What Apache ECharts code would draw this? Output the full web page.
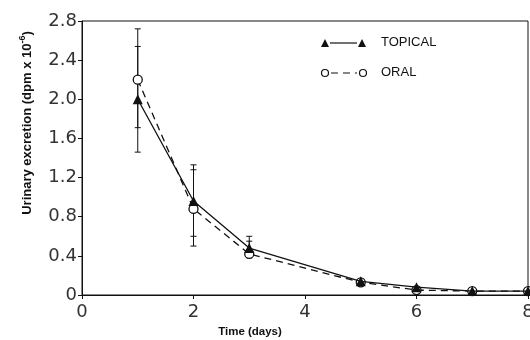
<!DOCTYPE html>
<html>
<head>
<meta charset="utf-8">
<script src="https://cdn.jsdelivr.net/npm/echarts@6/dist/echarts.min.js"></script>
<style>
  html, body { margin: 0; padding: 0; background: #fff; }
  #chart { width: 530px; height: 340px; }
</style>
</head>
<body>
<div id="chart"></div>
<script>
// days sampled
const days = [1, 2, 3, 5, 6, 7, 8];
// urinary excretion (dpm x 10^-6)
const topical = [2.0, 0.96, 0.48, 0.14, 0.08, 0.04, 0.04];
const oral = [2.2, 0.88, 0.42, 0.13, 0.05, 0.04, 0.04];
// error bars [day, low, high]
const topicalErr = [[1, 1.46, 2.54], [2, 0.60, 1.33], [3, 0.40, 0.60]];
const oralErr = [[1, 1.71, 2.72], [2, 0.50, 1.28], [3, 0.38, 0.55]];
const yTicks = [0, 0.4, 0.8, 1.2, 1.6, 2.0, 2.4, 2.8];

const ink = '#111';

const errorBars = (err) => ({
    type: 'custom',
    silent: true,
    z: 1,
    data: err,
    renderItem: (params, api) => {
        const x = api.value(0);
        const lo = api.coord([x, api.value(1)]);
        const hi = api.coord([x, api.value(2)]);
        const w = 3;
        const style = { stroke: ink, lineWidth: 1 };
        return {
            type: 'group',
            children: [
                { type: 'line', shape: { x1: lo[0], y1: lo[1], x2: hi[0], y2: hi[1] }, style },
                { type: 'line', shape: { x1: lo[0] - w, y1: lo[1], x2: lo[0] + w, y2: lo[1] }, style },
                { type: 'line', shape: { x1: hi[0] - w, y1: hi[1], x2: hi[0] + w, y2: hi[1] }, style },
            ],
        };
    },
});

const chart = echarts.init(document.getElementById('chart'));

const option = {
    animation: false,
    grid: {
        left: 82, right: 2, top: 21, bottom: 45,
        outerBoundsMode: 'none',
        show: true, borderColor: ink, borderWidth: 1,
    },
    xAxis: {
        type: 'value',
        min: 0,
        max: 8,
        interval: 2,
        name: 'Time (days)',
        nameLocation: 'middle',
        nameGap: 30,
        nameTextStyle: {
            fontFamily: 'Liberation Sans', fontWeight: 'bold', fontSize: 11.5, color: ink,
            padding: [0, 110, 0, 0],
        },
        axisLine: { lineStyle: { color: ink } },
        axisTick: { length: 4, lineStyle: { color: ink } },
        axisLabel: { fontFamily: 'DejaVu Sans', fontSize: 18, color: '#333', margin: 8 },
        splitLine: { show: false },
    },
    yAxis: {
        type: 'value',
        min: 0,
        max: 2.8,
        interval: 0.4,
        name: 'Urinary excretion (dpm x 10{sup|-6})',
        nameLocation: 'middle',
        nameGap: 46,
        nameTextStyle: {
            fontFamily: 'Liberation Sans', fontWeight: 'bold', fontSize: 13, color: ink,
            padding: [0, 0, 0, 70],
            rich: { sup: { fontSize: 9, fontWeight: 'bold', verticalAlign: 'top', padding: [0, 0, 9, 0] } },
        },
        axisLine: { lineStyle: { color: ink } },
        axisTick: { length: 4, lineStyle: { color: ink } },
        axisLabel: {
            fontFamily: 'DejaVu Sans', fontSize: 18, color: '#333', margin: 5,
            formatter: (v) => (v === 0 ? '0' : yTicks.find((t) => Math.abs(t - v) < 1e-6).toFixed(1)),
        },
        splitLine: { show: false },
    },
    series: [
        errorBars(topicalErr),
        errorBars(oralErr),
        {
            name: 'ORAL',
            type: 'line',
            z: 3,
            data: days.map((d, i) => [d, oral[i]]),
            symbol: 'circle',
            symbolSize: 9,
            itemStyle: { color: '#fff', borderColor: ink, borderWidth: 1.3 },
            lineStyle: { color: ink, width: 1.3, type: [7, 5] },
        },
        {
            name: 'TOPICAL',
            type: 'line',
            z: 4,
            data: days.map((d, i) => [d, topical[i]]),
            symbol: 'triangle',
            symbolSize: 10,
            itemStyle: { color: ink },
            lineStyle: { color: ink, width: 1.3 },
        },
    ],
    graphic: [
        { type: 'polygon', shape: { points: [[325, 39], [329, 47], [321, 47]] }, style: { fill: ink } },
        { type: 'line', shape: { x1: 330, y1: 43, x2: 357, y2: 43 }, style: { stroke: ink, lineWidth: 1.2 } },
        { type: 'polygon', shape: { points: [[362, 39], [366, 47], [358, 47]] }, style: { fill: ink } },
        { type: 'text', left: 381, top: 36, style: { text: 'TOPICAL', fontFamily: 'Liberation Sans', fontSize: 13, fill: ink } },
        { type: 'circle', shape: { cx: 325, cy: 73, r: 3.5 }, style: { fill: '#fff', stroke: ink, lineWidth: 1.2 } },
        { type: 'line', shape: { x1: 331, y1: 73, x2: 357, y2: 73 }, style: { stroke: ink, lineWidth: 1.2, lineDash: [7, 5] } },
        { type: 'circle', shape: { cx: 363, cy: 73, r: 3.5 }, style: { fill: '#fff', stroke: ink, lineWidth: 1.2 } },
        { type: 'text', left: 381, top: 66, style: { text: 'ORAL', fontFamily: 'Liberation Sans', fontSize: 13, fill: ink } },
    ],
};

chart.setOption(option);
</script>
</body>
</html>
